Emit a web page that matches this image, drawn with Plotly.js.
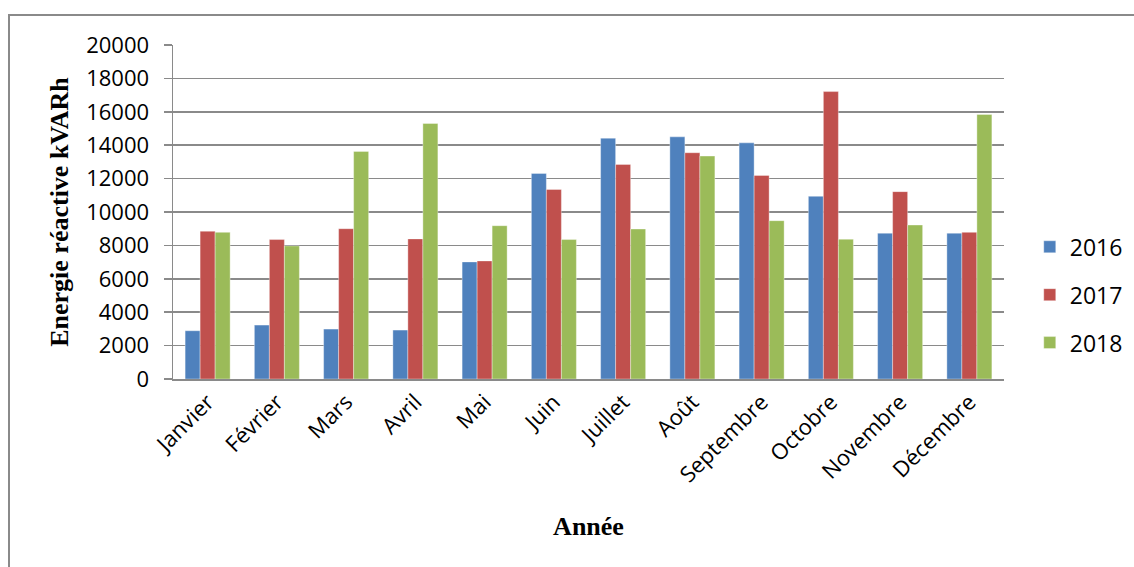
<!DOCTYPE html>
<html>
<head>
<meta charset="utf-8">
<script src="https://cdn.plot.ly/plotly-3.0.1.min.js"></script>
<style>
  html, body { margin: 0; padding: 0; background: #fff; }
  #wrap { position: relative; width: 1134px; height: 567px; }
  #chart { width: 1134px; height: 567px; }
  #frame { position: absolute; left: 8px; top: 14px; width: 1200px; height: 700px;
           border-top: 2px solid #8a8a8a; border-left: 2px solid #8a8a8a; pointer-events: none; }
</style>
</head>
<body>
<div id="wrap">
  <div id="chart"></div>
  <div id="frame"></div>
</div>
<script>
const months = ["Janvier","Février","Mars","Avril","Mai","Juin","Juillet","Août","Septembre","Octobre","Novembre","Décembre"];
const values2016 = [2890, 3230, 2990, 2930, 7010, 12310, 14420, 14500, 14140, 10940, 8730, 8730];
const values2017 = [8850, 8350, 9000, 8390, 7070, 11350, 12850, 13550, 12190, 17210, 11220, 8780];
const values2018 = [8780, 7970, 13630, 15300, 9180, 8350, 8980, 13350, 9480, 8370, 9220, 15840];
const seriesNames = ["2016", "2017", "2018"];
const seriesColors = ["#4F81BD", "#C0504D", "#9BBB59"];
const yTicks = [0, 2000, 4000, 6000, 8000, 10000, 12000, 14000, 16000, 18000, 20000];

const allValues = [values2016, values2017, values2018];
const traces = allValues.map((vals, i) => ({
  type: "bar",
  x: months,
  y: vals,
  name: seriesNames[i],
  legendgroup: seriesNames[i],
  marker: { color: seriesColors[i], line: { color: "rgba(255,255,255,0.6)", width: 0.6 } },
  hoverinfo: "x+y+name"
}));

const sansFam = "Open Sans, Lato, sans-serif";
const titleFont = { family: "Liberation Serif, Times New Roman, serif", size: 26, color: "#000", weight: "bold" };

const layout = {
  width: 1134,
  height: 567,
  margin: { l: 173, r: 130, t: 45, b: 188, pad: 0, autoexpand: false },
  paper_bgcolor: "#fff",
  plot_bgcolor: "#fff",
  barmode: "group",
  bargap: 0.35,
  bargroupgap: 0,
  showlegend: true,
  legend: {
    x: 1.031, xanchor: "left", y: 0.252, yanchor: "middle",
    font: { family: sansFam, size: 23, color: "#000" },
    traceorder: "grouped",
    tracegroupgap: 15,
    itemwidth: 30,
    bgcolor: "rgba(0,0,0,0)"
  },
  xaxis: {
    type: "category",
    tickangle: -45,
    tickfont: { family: sansFam, size: 22, color: "#000" },
    showgrid: false,
    showline: true,
    linecolor: "#8a8a8a",
    linewidth: 1.5,
    ticks: "",
    title: { text: "Année", font: titleFont, standoff: 30 },
    automargin: false
  },
  yaxis: {
    range: [0, 20000],
    tickvals: yTicks,
    ticktext: yTicks.map(String),
    tickfont: { family: sansFam, size: 22, color: "#000" },
    showgrid: true,
    gridcolor: "#8a8a8a",
    gridwidth: 1.5,
    zeroline: false,
    showline: true,
    linecolor: "#8a8a8a",
    linewidth: 1.5,
    ticks: "outside",
    ticklen: 8,
    tickcolor: "#8a8a8a",
    tickwidth: 1.5,
    ticklabelstandoff: 10,
    title: { text: "Energie réactive kVARh", font: titleFont, standoff: 10 },
    automargin: false
  }
};

Plotly.newPlot("chart", traces, layout, { displayModeBar: false, staticPlot: true });
</script>
</body>
</html>
